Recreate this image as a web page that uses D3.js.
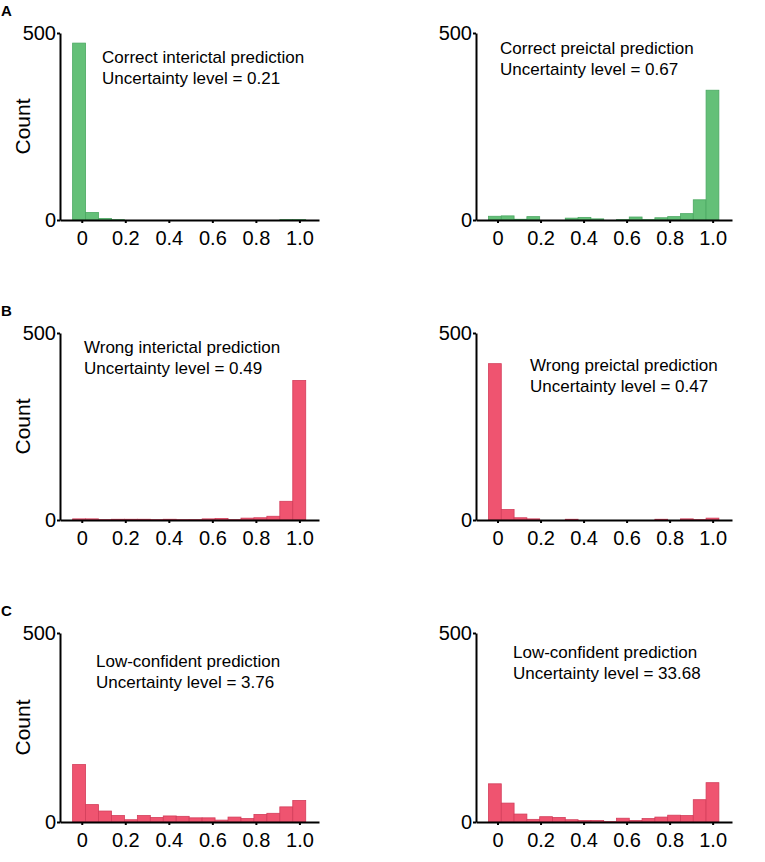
<!DOCTYPE html>
<html lang="en">
<head>
<meta charset="UTF-8">
<script src="https://d3js.org/d3.v7.min.js"></script>
<style>
    html, body { margin: 0; padding: 0; background: #fff; overflow: hidden }
    svg { font-family: "Liberation Sans", Arial, sans-serif; }
    .axis path, .axis line { stroke: #000; stroke-width: 2px; }
    .axis text { font-size: 20px; fill: #000; }
    .note { font-size: 17px; fill: #000; }
    .ylab { font-size: 21px; fill: #000; }
    .letter { font-size: 15px; font-weight: bold; fill: #000; }
</style>
</head>
<body>
<svg id="chart" width="765" height="862"></svg>
<script>
// histogram counts, 18 bins from 0 to 1.0
const correctInterictal = [473, 20, 4, 1, 0, 0, 0, 0, 0, 0, 0, 0, 0, 0, 0, 0, 1, 1];
const correctPreictal   = [10, 11, 2, 9, 0, 0, 5, 7, 3, 0, 1, 8, 1, 6, 9, 17, 54, 347];
const wrongInterictal   = [3, 3, 1, 2, 2, 2, 1, 2, 1, 1, 3, 4, 1, 5, 6, 10, 50, 373];
const wrongPreictal     = [418, 28, 6, 3, 0, 0, 2, 0, 0, 0, 0, 0, 0, 2, 0, 3, 1, 5];
const lowConfLeft       = [152, 46, 29, 17, 6, 17, 12, 16, 15, 11, 11, 5, 13, 9, 20, 23, 40, 57];
const lowConfRight      = [101, 50, 21, 7, 14, 12, 6, 4, 4, 1, 10, 4, 9, 13, 18, 17, 59, 104];

const xTicks = [0, 0.2, 0.4, 0.6, 0.8, 1.0];
const xTickLabels = ["0", "0.2", "0.4", "0.6", "0.8", "1.0"];
const yTicks = [0, 500];

const titles = [
    ["Correct interictal prediction", "Uncertainty level = 0.21"],
    ["Correct preictal prediction", "Uncertainty level = 0.67"],
    ["Wrong interictal prediction", "Uncertainty level = 0.49"],
    ["Wrong preictal prediction", "Uncertainty level = 0.47"],
    ["Low-confident prediction", "Uncertainty level = 3.76"],
    ["Low-confident prediction", "Uncertainty level = 33.68"]
];
const rowLetters = ["A", "B", "C"];

const green = { fill: "#64c078", stroke: "#4ba862" };
const red = { fill: "#ef5470", stroke: "#d33d5a" };

const panels = [
    { counts: correctInterictal, col: 0, row: 0, color: green, note: [102, 63] },
    { counts: correctPreictal,   col: 1, row: 0, color: green, note: [500, 54] },
    { counts: wrongInterictal,   col: 0, row: 1, color: red,   note: [84, 353] },
    { counts: wrongPreictal,     col: 1, row: 1, color: red,   note: [530, 371] },
    { counts: lowConfLeft,       col: 0, row: 2, color: red,   note: [96, 667] },
    { counts: lowConfRight,      col: 1, row: 2, color: red,   note: [513, 658] }
];

const colX = [[60, 319], [476, 732]];
const rowY = [[220, 33], [520, 333], [822, 633]];

const binStart = -0.042, binWidth = 0.0595;

const svg = d3.select("#chart");

panels.forEach((p, i) => {
    const x = d3.scaleLinear().domain([-0.1, 1.09]).range(colX[p.col]);
    const y = d3.scaleLinear().domain([0, 500]).range(rowY[p.row]);
    const g = svg.append("g");

    const bins = p.counts.map((c, k) => ({
        x0: binStart + k * binWidth,
        x1: binStart + (k + 1) * binWidth,
        count: c
    }));

    g.selectAll("rect")
        .data(bins)
        .join("rect")
        .attr("x", d => x(d.x0))
        .attr("width", d => x(d.x1) - x(d.x0))
        .attr("y", d => y(d.count))
        .attr("height", d => y(0) - y(d.count))
        .attr("fill", p.color.fill)
        .attr("stroke", p.color.stroke)
        .attr("stroke-width", 0.8);

    g.append("g")
        .attr("class", "axis")
        .attr("transform", `translate(0,${y(0)})`)
        .call(d3.axisBottom(x).tickValues(xTicks)
            .tickFormat((d, j) => xTickLabels[j])
            .tickSize(3).tickSizeOuter(0).tickPadding(8));

    g.append("g")
        .attr("class", "axis")
        .attr("transform", `translate(${colX[p.col][0]},0)`)
        .call(d3.axisLeft(y).tickValues(yTicks)
            .tickSize(3).tickSizeOuter(0).tickPadding(1));

    const note = g.append("text").attr("class", "note")
        .attr("x", p.note[0]).attr("y", p.note[1]);
    note.append("tspan").text(titles[i][0]);
    note.append("tspan").attr("x", p.note[0]).attr("dy", 20.5).text(titles[i][1]);

    if (p.col === 0) {
        const cy = (rowY[p.row][0] + rowY[p.row][1]) / 2;
        g.append("text").attr("class", "ylab")
            .attr("transform", `translate(30,${cy}) rotate(-90)`)
            .attr("text-anchor", "middle")
            .text("Count");
        g.append("text").attr("class", "letter")
            .attr("x", 1).attr("y", rowY[p.row][1] - 17)
            .text(rowLetters[p.row]);
    }
});
</script>
</body>
</html>
